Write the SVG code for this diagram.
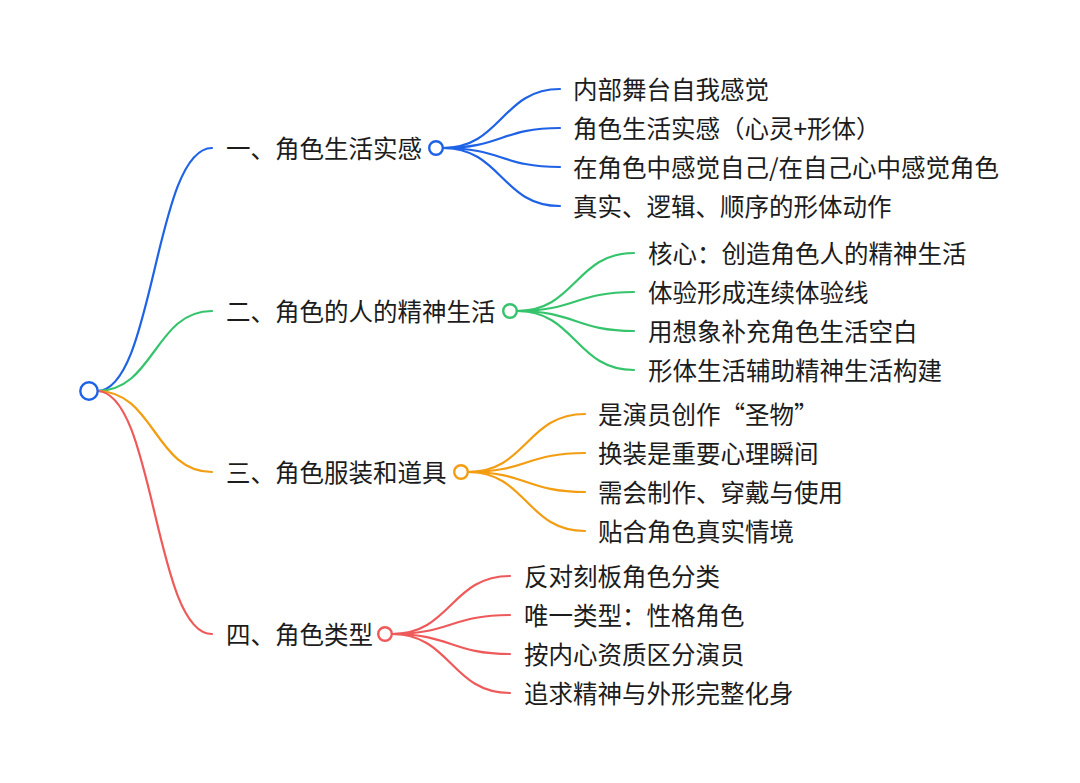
<svg xmlns="http://www.w3.org/2000/svg" width="1080" height="783" viewBox="0 0 1080 783">
<style>
  text { font-family: "Noto Sans CJK SC", "Noto Sans", sans-serif; font-size: 24.5px; fill: #1c1c1c; }
  .c { fill: none; stroke-width: 2.2; stroke-linecap: round; }
  .b1 { stroke: #1e62e6; }
  .b2 { stroke: #35c46c; }
  .b3 { stroke: #f29d12; }
  .b4 { stroke: #ee5a5a; }
  .dot { fill: #fff; stroke-width: 2.4; }
</style>
<rect width="1080" height="783" fill="#fff"/>
<g id="connectors">
  <path class="c b1" d="M97,391 C154.5,391 154.5,148 212,148"/>
  <path class="c b2" d="M97,391 C154.5,391 154.5,311 212,311"/>
  <path class="c b3" d="M97,391 C154.5,391 154.5,472 212,472"/>
  <path class="c b4" d="M97,391 C154.5,391 154.5,634 212,634"/>

  <path class="c b1" d="M443,148 C501.5,148 501.5,89 560,89"/>
  <path class="c b1" d="M443,148 C501.5,148 501.5,128 560,128"/>
  <path class="c b1" d="M443,148 C501.5,148 501.5,167 560,167"/>
  <path class="c b1" d="M443,148 C501.5,148 501.5,206 560,206"/>

  <path class="c b2" d="M517,311 C575.5,311 575.5,253 634,253"/>
  <path class="c b2" d="M517,311 C575.5,311 575.5,292 634,292"/>
  <path class="c b2" d="M517,311 C575.5,311 575.5,331 634,331"/>
  <path class="c b2" d="M517,311 C575.5,311 575.5,370 634,370"/>

  <path class="c b3" d="M468,472 C526.5,472 526.5,414 585,414"/>
  <path class="c b3" d="M468,472 C526.5,472 526.5,453 585,453"/>
  <path class="c b3" d="M468,472 C526.5,472 526.5,492 585,492"/>
  <path class="c b3" d="M468,472 C526.5,472 526.5,531 585,531"/>

  <path class="c b4" d="M392,634 C451,634 451,576 510,576"/>
  <path class="c b4" d="M392,634 C451,634 451,615 510,615"/>
  <path class="c b4" d="M392,634 C451,634 451,654 510,654"/>
  <path class="c b4" d="M392,634 C451,634 451,693 510,693"/>
</g>
<g id="root">
  <circle class="dot b1" cx="89" cy="391" r="8.7" stroke-width="2.7"/>
</g>
<g id="n1">
  <text x="226" y="158">一、角色生活实感</text>
  <circle class="dot b1" cx="436" cy="148" r="6.8"/>
</g>
<g id="n1-1"><text x="573" y="99">内部舞台自我感觉</text></g>
<g id="n1-2"><text x="573" y="138">角色生活实感（心灵+形体）</text></g>
<g id="n1-3"><text x="573" y="177">在角色中感觉自己/在自己心中感觉角色</text></g>
<g id="n1-4"><text x="573" y="216">真实、逻辑、顺序的形体动作</text></g>

<g id="n2">
  <text x="226" y="321">二、角色的人的精神生活</text>
  <circle class="dot b2" cx="510" cy="311" r="6.8"/>
</g>
<g id="n2-1"><text x="648" y="263">核心：创造角色人的精神生活</text></g>
<g id="n2-2"><text x="648" y="302">体验形成连续体验线</text></g>
<g id="n2-3"><text x="648" y="341">用想象补充角色生活空白</text></g>
<g id="n2-4"><text x="648" y="380">形体生活辅助精神生活构建</text></g>

<g id="n3">
  <text x="226" y="482">三、角色服装和道具</text>
  <circle class="dot b3" cx="461" cy="472" r="6.8"/>
</g>
<g id="n3-1"><text x="598" y="424">是演员创作“圣物”</text></g>
<g id="n3-2"><text x="598" y="463">换装是重要心理瞬间</text></g>
<g id="n3-3"><text x="598" y="502">需会制作、穿戴与使用</text></g>
<g id="n3-4"><text x="598" y="541">贴合角色真实情境</text></g>

<g id="n4">
  <text x="226" y="644">四、角色类型</text>
  <circle class="dot b4" cx="385" cy="634" r="6.8"/>
</g>
<g id="n4-1"><text x="524" y="586">反对刻板角色分类</text></g>
<g id="n4-2"><text x="524" y="625">唯一类型：性格角色</text></g>
<g id="n4-3"><text x="524" y="664">按内心资质区分演员</text></g>
<g id="n4-4"><text x="524" y="703">追求精神与外形完整化身</text></g>
</svg>
